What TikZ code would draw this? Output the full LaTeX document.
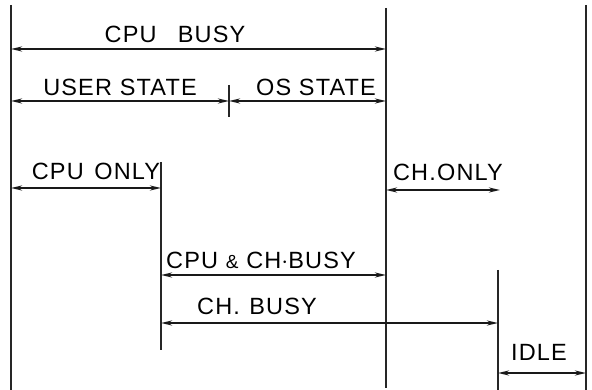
\documentclass[tikz,border=0pt]{standalone}
\usepackage{fontspec}
\setmainfont[LetterSpace=5]{Liberation Sans}
\usetikzlibrary{arrows.meta}
\tikzset{
  vline/.style={line width=1.4pt, black!85},
  span/.style={line width=2pt, black!90, {Stealth[length=11pt,width=5pt]}-{Stealth[length=11pt,width=5pt]}},
  lbl/.style={inner sep=0pt, font=\fontsize{23.5}{23.5}\selectfont}
}
\begin{document}
\begin{tikzpicture}[x=1pt,y=-1pt]
\useasboundingbox (0,0) rectangle (592,390);
% vertical lines
\coordinate (a1) at (11,5);   \coordinate (a2) at (11,390);
\coordinate (b1) at (386,8);  \coordinate (b2) at (386,388);
\coordinate (c1) at (586,5);  \coordinate (c2) at (586,390);
\coordinate (d1) at (161,162); \coordinate (d2) at (161,350);
\coordinate (e1) at (498,270); \coordinate (e2) at (498,390);
\coordinate (t1) at (229,85); \coordinate (t2) at (229,117);
\draw[vline] (a1) -- (a2);
\draw[vline] (b1) -- (b2);
\draw[vline] (c1) -- (c2);
\draw[vline] (d1) -- (d2);
\draw[vline] (e1) -- (e2);
\draw[vline] (t1) -- (t2);
% span end points
\coordinate (cb1) at (11,49);   \coordinate (cb2) at (386,49);
\coordinate (us1) at (11,101);  \coordinate (us2) at (229,101);
\coordinate (os1) at (229,101); \coordinate (os2) at (386,101);
\coordinate (co1) at (11,188);  \coordinate (co2) at (161,188);
\coordinate (ho1) at (386,190); \coordinate (ho2) at (500,190);
\coordinate (cc1) at (161,275); \coordinate (cc2) at (386,275);
\coordinate (hb1) at (161,323); \coordinate (hb2) at (498,323);
\coordinate (id1) at (498,373); \coordinate (id2) at (586,373);
\draw[span] (cb1) -- (cb2);
\draw[span] (us1) -- (us2);
\draw[span] (os1) -- (os2);
\draw[span] (co1) -- (co2);
\draw[span] (ho1) -- (ho2);
\draw[span] (cc1) -- (cc2);
\draw[span] (hb1) -- (hb2);
\draw[span] (id1) -- (id2);
% labels
\node[lbl] (lcb) at (175,34) {CPU\hspace{0.9em}BUSY};
\node[lbl] (lus) at (120,87) {USER STATE};
\node[lbl] (los) at (316,87) {OS STATE};
\node[lbl] (lco) at (96,171) {CPU\hspace{0.45em}ONLY};
\node[lbl] (lho) at (448,172) {CH.ONLY};
\node[lbl] (lcc) at (261,260) {CPU {\fontsize{19}{19}\selectfont\&} CH$\cdot$BUSY};
\node[lbl] (lhb) at (257,306) {CH.\hspace{0.4em}BUSY};
\node[lbl] (lid) at (539,352) {IDLE};
\end{tikzpicture}
\end{document}
